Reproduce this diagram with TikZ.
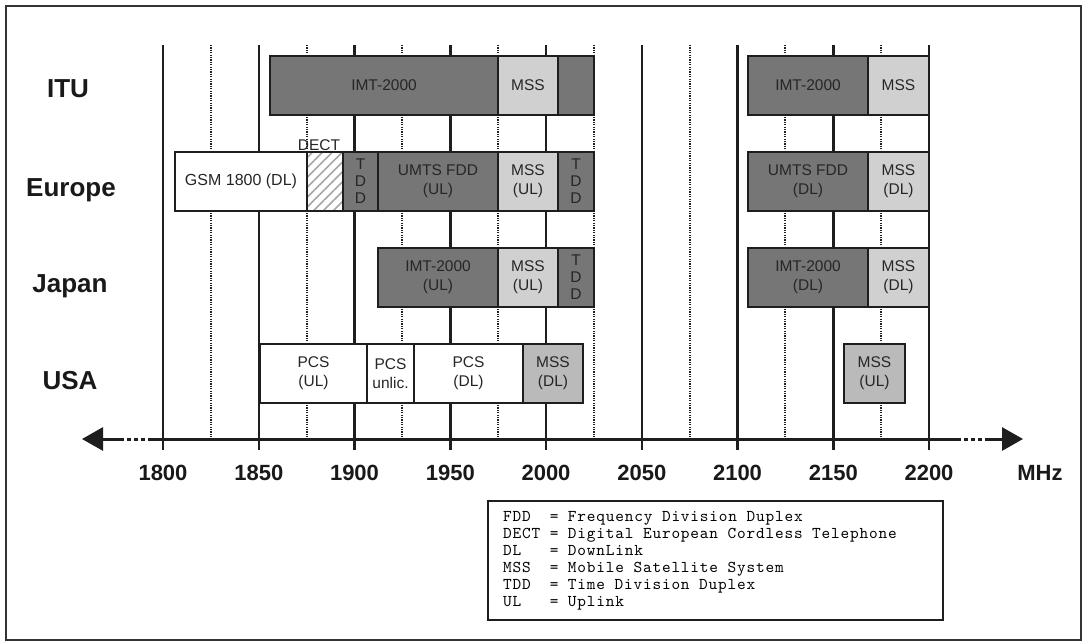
\documentclass[tikz,border=0pt]{standalone}
\usepackage{fontspec}
\setmainfont{Liberation Sans}
\newfontfamily\legendmono[LetterSpace=5]{lmmono10-regular.otf}
\usetikzlibrary{arrows.meta,patterns.meta}
\definecolor{darkband}{RGB}{118,118,118}
\definecolor{lightband}{RGB}{208,208,208}
\definecolor{midband}{RGB}{186,186,186}
\definecolor{inkc}{RGB}{30,30,30}
\begin{document}
\begin{tikzpicture}[x=1pt,y=-1pt,
  band/.style={draw=inkc,line width=2pt,inner sep=0pt,outer sep=0pt,minimum height=59pt,anchor=north west,
    align=center,font=\fontsize{15.5}{19}\selectfont,text=black!85},
  darkb/.style={band,fill=darkband},
  lightb/.style={band,fill=lightband},
  midb/.style={band,fill=midband},
  whiteb/.style={band,fill=white},
  gridsolid/.style={draw=inkc,line width=2.5pt},
  griddot/.style={draw=inkc,line width=2pt,dash pattern=on 1.1pt off 1.3pt},
  rowlabel/.style={font=\fontsize{26}{30}\selectfont\bfseries,anchor=base,text=black!90},
  ticklabel/.style={font=\fontsize{22}{26}\selectfont\bfseries,anchor=base,text=black!90},
  axisline/.style={draw=inkc,line width=3pt},
  axisdots/.style={draw=inkc,line width=3pt,dash pattern=on 4pt off 3pt}
]
\useasboundingbox (0,0) rectangle (1083,643);
\fill[white] (0,0) rectangle (1083,643);
\draw[line width=1.5pt,draw=black!80] (6,6) rectangle (1081,640);

% grid lines
\foreach \x in {163,258.8,354.5,450.3,546,641.8,737.5,833.3,929}
  \draw[gridsolid] (\x,45) -- (\x,450);
\foreach \x in {210.9,306.6,402.4,498.1,593.9,689.6,785.4,881.1}
  \draw[griddot] (\x,45) -- (\x,439);

% axis
\coordinate (axL) at (148,439);
\coordinate (axR) at (957,439);
\draw[axisline] (axL) -- (axR);
\coordinate (dl1) at (120,439);
\draw[axisdots] (dl1) -- (axL);
\coordinate (tipL) at (82,439);
\draw[axisline,-{Triangle[length=21pt,width=23pt]}] (dl1) -- (tipL);
\coordinate (dr1) at (986,439);
\draw[axisdots] (axR) -- (dr1);
\coordinate (tipR) at (1023,439);
\draw[axisline,-{Triangle[length=21pt,width=23pt]}] (dr1) -- (tipR);

% tick labels
\foreach \x/\t in {163/1800,258.8/1850,354.5/1900,450.3/1950,546/2000,641.8/2050,737.5/2100,833.3/2150,929/2200}
  \node[ticklabel] at (\x,480) {\t};
\node[ticklabel] (mhz) at (1040,480) {MHz};

% row labels
\node[rowlabel] (litu) at (68,97) {ITU};
\node[rowlabel] (leur) at (71,196) {Europe};
\node[rowlabel] (ljap) at (70,292) {Japan};
\node[rowlabel] (lusa) at (70,389) {USA};

% ITU
\node[darkb,minimum width=228pt] (itu-imt) at (270,56) {IMT-2000};
\node[lightb,minimum width=60pt] (itu-mss) at (498,56) {MSS};
\node[darkb,minimum width=36pt] (itu-tdd) at (558,56) {};
\node[darkb,minimum width=120pt] (itu-imt2) at (748,56) {IMT-2000};
\node[lightb,minimum width=61pt] (itu-mss2) at (868,56) {MSS};

% Europe
\node[whiteb,minimum width=132pt,font=\fontsize{16}{19}\selectfont] (eu-gsm) at (175,152) {GSM 1800 (DL)};
\node[band,minimum width=36pt,fill=white,pattern={Lines[angle=45,distance=7pt,line width=1.6pt]},pattern color=black!35] (eu-dect) at (307,152) {};
\draw[draw=inkc,line width=2pt] (eu-dect.north west) rectangle (eu-dect.south east);
\node[anchor=base,font=\fontsize{15.5}{19}\selectfont,text=black!85] (dect-lab) at (319,150) {DECT};
\node[darkb,minimum width=35pt,font=\fontsize{15.5}{17}\selectfont] (eu-tdd1) at (343,152) {T\\D\\D};
\node[darkb,minimum width=120pt] (eu-umts) at (378,152) {UMTS FDD\\(UL)};
\node[lightb,minimum width=60pt] (eu-mss) at (498,152) {MSS\\(UL)};
\node[darkb,minimum width=36pt,font=\fontsize{15.5}{17}\selectfont] (eu-tdd2) at (558,152) {T\\D\\D};
\node[darkb,minimum width=120pt] (eu-umts2) at (748,152) {UMTS FDD\\(DL)};
\node[lightb,minimum width=61pt] (eu-mss2) at (868,152) {MSS\\(DL)};

% Japan
\node[darkb,minimum width=120pt] (jp-imt) at (378,248) {IMT-2000\\(UL)};
\node[lightb,minimum width=60pt] (jp-mss) at (498,248) {MSS\\(UL)};
\node[darkb,minimum width=36pt,font=\fontsize{15.5}{17}\selectfont] (jp-tdd) at (558,248) {T\\D\\D};
\node[darkb,minimum width=120pt] (jp-imt2) at (748,248) {IMT-2000\\(DL)};
\node[lightb,minimum width=61pt] (jp-mss2) at (868,248) {MSS\\(DL)};

% USA
\node[whiteb,minimum width=107pt] (us-pcsul) at (260,344) {PCS\\(UL)};
\node[whiteb,minimum width=47pt] (us-pcsun) at (367,344) {PCS\\unlic.};
\node[whiteb,minimum width=109pt] (us-pcsdl) at (414,344) {PCS\\(DL)};
\node[midb,minimum width=60pt] (us-mss) at (523,344) {MSS\\(DL)};
\node[midb,minimum width=61pt] (us-mss2) at (844,344) {MSS\\(UL)};

% legend
\node[draw=inkc,line width=2pt,anchor=north west,minimum width=455pt,minimum height=119pt,inner sep=0pt] (legend) at (487,500) {};
\node[anchor=north west,inner sep=0pt,font=\legendmono\fontsize{16.5}{17}\selectfont,text=black] (legtext) at (503,509)
{\begin{tabular}{@{}l@{}l@{}}
FDD\ \ \  & = Frequency Division Duplex\\
DECT\     & = Digital European Cordless Telephone\\
DL\ \ \ \ & = DownLink\\
MSS\ \ \  & = Mobile Satellite System\\
TDD\ \ \  & = Time Division Duplex\\
UL\ \ \ \ & = Uplink
\end{tabular}};
\end{tikzpicture}
\end{document}
